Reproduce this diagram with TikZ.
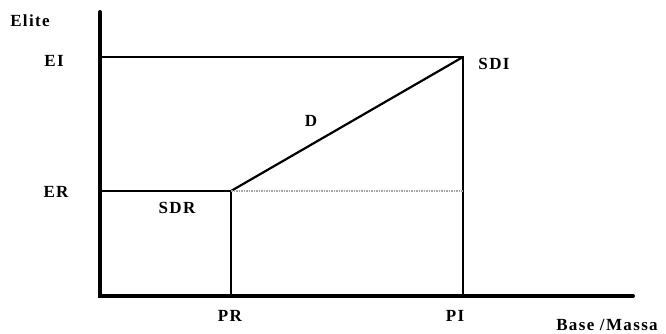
\documentclass[tikz,border=0pt]{standalone}
\usepackage{fontspec}
\setmainfont{Liberation Serif}
\newfontfamily\lblfont[LetterSpace=8]{Liberation Serif}
\usetikzlibrary{positioning}

\begin{document}
\begin{tikzpicture}[x=1pt, y=-1pt,
    axis/.style={line width=4pt},
    edge/.style={line width=2.2pt},
    guide/.style={line width=1.5pt, gray!70, densely dotted},
    lbl/.style={font=\lblfont\fontsize{17}{19}\selectfont\bfseries, inner sep=0pt}]
  \useasboundingbox (0,0) rectangle (666,334);
  % corners
  \coordinate (O)    at (100,296);
  \coordinate (ytop) at (100,12);
  \coordinate (xend) at (633,296);
  \coordinate (EI)   at (100,57);
  \coordinate (SDI)  at (463,57);
  \coordinate (PI)   at (463,296);
  \coordinate (ER)   at (100,191);
  \coordinate (SDR)  at (231,191);
  \coordinate (PR)   at (231,296);
  \coordinate (ERr)  at (463,191);
  % axes
  \draw[axis, line cap=round] (ytop) -- (O) -- (xend);
  % rectangles and the line D
  \draw[edge] (EI) -- (SDI) -- (PI);
  \draw[edge] (ER) -- (SDR) -- (PR);
  \draw[edge] (SDR) -- (SDI);
  \draw[guide] (SDR) -- (ERr);
  % labels
  \node[lbl] (elite) at (30,21)  {Elite};
  \node[lbl] (ei)    at (54,61)  {EI};
  \node[lbl] (er)    at (56,192) {ER};
  \node[lbl] (sdi)   at (494,64) {SDI};
  \node[lbl] (d)     at (311,121) {D};
  \node[lbl] (sdr)   at (177,208) {SDR};
  \node[lbl] (pr)    at (230,316) {PR};
  \node[lbl] (pi)    at (455,316) {PI};
  \node[lbl] (base)  at (607,325) {Base /Massa};
\end{tikzpicture}
\end{document}
